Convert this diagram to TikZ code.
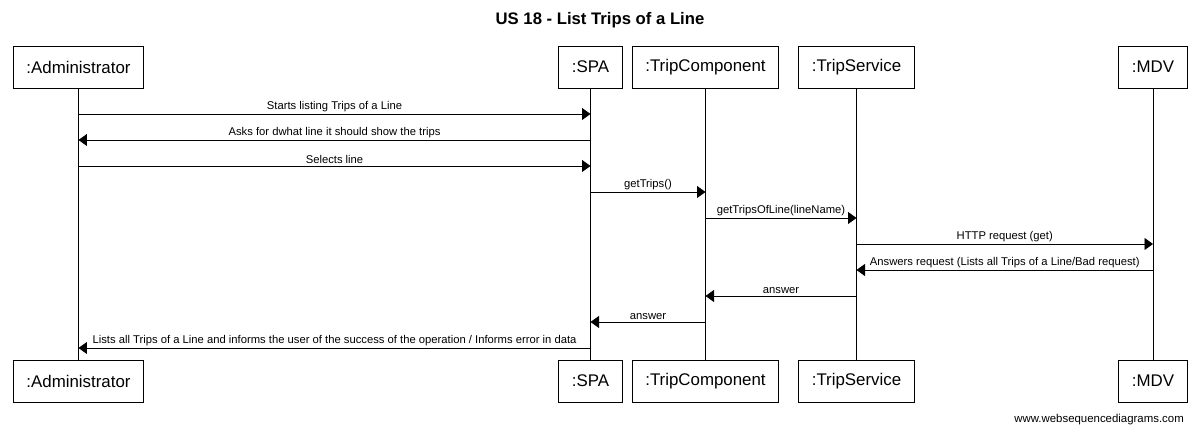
\documentclass[tikz,border=0pt]{standalone}
\usepackage{fontspec}
\setmainfont{Liberation Sans}
\usetikzlibrary{arrows.meta}

\begin{document}
\begin{tikzpicture}[x=0.02cm,y=-0.02cm,
  actor/.style={draw,line width=0.5pt,minimum height=0.84cm,inner xsep=0.26cm,font=\fontsize{9.6}{11}\selectfont},
  life/.style={line width=0.5pt},
  msg/.style={line width=0.5pt,-{Triangle[length=0.17cm,width=0.24cm]}},
  lbl/.style={above,inner ysep=1.2pt,font=\fontsize{6.4}{7.5}\selectfont}]
  \useasboundingbox (0,0) rectangle (1200,431);
  \node[font=\bfseries\fontsize{9.5}{11}\selectfont] (title) at (600,20) {US 18 - List Trips of a Line};
  % participants, top row
  \node[actor] (adm) at (78.5,67) {:Administrator};
  \node[actor] (spa) at (590.5,67) {:SPA};
  \node[actor] (comp) at (705.5,67) {:TripComponent};
  \node[actor] (serv) at (856.5,67) {:TripService};
  \node[actor] (mdv) at (1153,67) {:MDV};
  % participants, bottom row
  \node[actor] (admb) at (78.5,381) {:Administrator};
  \node[actor] (spab) at (590.5,381) {:SPA};
  \node[actor] (compb) at (705.5,381) {:TripComponent};
  \node[actor] (servb) at (856.5,381) {:TripService};
  \node[actor] (mdvb) at (1153,381) {:MDV};
  % lifelines
  \draw[life] (adm) -- (admb);
  \draw[life] (spa) -- (spab);
  \draw[life] (comp) -- (compb);
  \draw[life] (serv) -- (servb);
  \draw[life] (mdv) -- (mdvb);
  % message rows
  \coordinate (m1) at (0,114);
  \coordinate (m2) at (0,140);
  \coordinate (m3) at (0,166);
  \coordinate (m4) at (0,192);
  \coordinate (m5) at (0,218);
  \coordinate (m6) at (0,244);
  \coordinate (m7) at (0,270);
  \coordinate (m8) at (0,296);
  \coordinate (m9) at (0,322);
  \coordinate (m10) at (0,348);
  % messages
  \draw[msg] (adm |- m1) -- node[lbl] {Starts listing Trips of a Line} (spa |- m1);
  \draw[msg] (spa |- m2) -- node[lbl] {Asks for dwhat line it should show the trips} (adm |- m2);
  \draw[msg] (adm |- m3) -- node[lbl] {Selects line} (spa |- m3);
  \draw[msg] (spa |- m4) -- node[lbl] {getTrips()} (comp |- m4);
  \draw[msg] (comp |- m5) -- node[lbl] {getTripsOfLine(lineName)} (serv |- m5);
  \draw[msg] (serv |- m6) -- node[lbl] {HTTP request (get)} (mdv |- m6);
  \draw[msg] (mdv |- m7) -- node[lbl] {Answers request (Lists all Trips of a Line/Bad request)} (serv |- m7);
  \draw[msg] (serv |- m8) -- node[lbl] {answer} (comp |- m8);
  \draw[msg] (comp |- m9) -- node[lbl] {answer} (spa |- m9);
  \draw[msg] (spa |- m10) -- node[lbl] {Lists all Trips of a Line and informs the user of the success of the operation / Informs error in data} (adm |- m10);
  \node[anchor=base east,font=\fontsize{6.5}{8}\selectfont] (site) at (1190,423) {www.websequencediagrams.com};
\end{tikzpicture}
\end{document}
